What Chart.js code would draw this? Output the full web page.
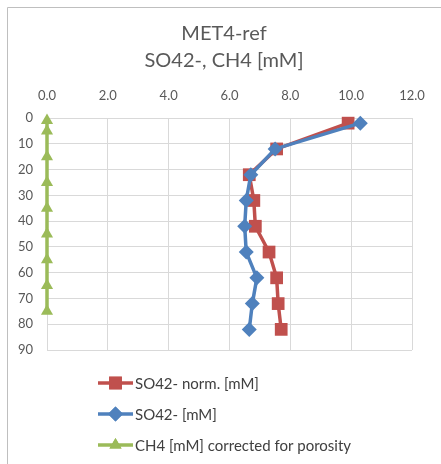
<!DOCTYPE html>
<html>
<head>
<meta charset="utf-8">
<script src="https://cdn.jsdelivr.net/npm/chart.js@4.4.1/dist/chart.umd.min.js"></script>
<style>
  html, body { margin: 0; padding: 0; background: #ffffff; }
  #wrap { position: relative; width: 441px; height: 464px; }
  canvas { display: block; }
</style>
</head>
<body>
<div id="wrap"><canvas id="c" width="441" height="464"></canvas></div>
<script>
// ---- Data ----
const titleLines = ['MET4-ref', 'SO42-, CH4 [mM]'];
const seriesNames = ['SO42- norm. [mM]', 'SO42- [mM]', 'CH4 [mM] corrected for porosity'];

const so4Depth = [2, 12, 22, 32, 42, 52, 62, 72, 82];
const so4Norm = [9.9, 7.55, 6.65, 6.8, 6.85, 7.3, 7.55, 7.6, 7.7];
const so4Raw = [10.3, 7.5, 6.7, 6.55, 6.5, 6.55, 6.9, 6.75, 6.65];

const ch4Depth = [1, 5, 15, 25, 35, 45, 55, 65, 75];
const ch4Conc = [0, 0, 0, 0, 0, 0, 0, 0, 0];

const xTicks = [0, 2, 4, 6, 8, 10, 12];
const yTicks = [0, 10, 20, 30, 40, 50, 60, 70, 80, 90];

const colors = ['#C0504D', '#4F81BD', '#9BBB59'];
const pointStyles = ['rect', 'rectRot', 'triangle'];
const pointRadii = [9, 7.5, 7];
const drawOrder = [3, 2, 1];

const FONT = 'Lato, "Open Sans", "DejaVu Sans", sans-serif';
const TXT = '#595959';

function pts(xs, ys) { return xs.map((x, i) => ({ x: x, y: ys[i] })); }

const datasets = [
  { label: seriesNames[0], data: pts(so4Norm, so4Depth) },
  { label: seriesNames[1], data: pts(so4Raw, so4Depth) },
  { label: seriesNames[2], data: pts(ch4Conc, ch4Depth) }
].map((d, i) => Object.assign(d, {
  order: drawOrder[i],
  borderColor: colors[i],
  backgroundColor: colors[i],
  pointBackgroundColor: colors[i],
  pointBorderColor: colors[i],
  pointBorderWidth: 0,
  pointStyle: pointStyles[i],
  pointRadius: pointRadii[i],
  pointHoverRadius: pointRadii[i],
  borderWidth: 3.5,
  showLine: true,
  tension: 0,
  clip: false
}));

// Frame + title drawn on the canvas
const framePlugin = {
  id: 'frame',
  beforeDraw(chart) {
    const ctx = chart.ctx;
    ctx.save();
    ctx.strokeStyle = '#bfbfbf';
    ctx.lineWidth = 1;
    ctx.beginPath();
    ctx.moveTo(7.5, 470);
    ctx.lineTo(7.5, 7.5);
    ctx.lineTo(450, 7.5);
    ctx.stroke();
    ctx.fillStyle = TXT;
    ctx.font = '20px ' + FONT;
    ctx.textAlign = 'center';
    ctx.textBaseline = 'middle';
    ctx.fillText(titleLines[0], 224, 34);
    ctx.fillText(titleLines[1], 224, 61);
    ctx.restore();
  }
};

const legendPlugin = {
  id: 'vlegend',
  afterDraw(chart) {
    const ctx = chart.ctx;
    const rowsY = [383, 414, 445];
    ctx.save();
    chart.data.datasets.forEach((ds, i) => {
      const y = rowsY[i];
      ctx.strokeStyle = ds.borderColor;
      ctx.lineWidth = 3.5;
      ctx.beginPath();
      ctx.moveTo(98, y);
      ctx.lineTo(133, y);
      ctx.stroke();
      ctx.fillStyle = ds.backgroundColor;
      Chart.helpers.drawPoint(ctx, { pointStyle: ds.pointStyle, radius: ds.pointRadius, borderWidth: 0 }, 115.5, y);
      ctx.fill();
      ctx.fillStyle = '#404040';
      ctx.font = '15px ' + FONT;
      ctx.textBaseline = 'middle';
      ctx.textAlign = 'left';
      ctx.fillText(ds.label, 135, y + 1);
    });
    ctx.restore();
  }
};

new Chart(document.getElementById('c'), {
  type: 'scatter',
  data: { datasets: datasets },
  plugins: [framePlugin, legendPlugin],
  options: {
    responsive: false,
    animation: false,
    events: [],
    layout: { padding: { left: 10, right: 29, top: 74, bottom: 114 } },
    plugins: {
      legend: { display: false },
      tooltip: { enabled: false },
      title: { display: false }
    },
    scales: {
      x: {
        type: 'linear',
        position: 'top',
        min: 0, max: 12,
        afterBuildTicks(scale) { scale.ticks = xTicks.map(v => ({ value: v })); },
        afterFit(scale) { scale.height = 118 - 74; },
        ticks: {
          color: TXT,
          padding: 14,
          font: { family: FONT, size: 13 },
          callback: v => Number(v).toFixed(1)
        },
        grid: { color: '#d9d9d9', lineWidth: 1, drawTicks: false },
        border: { display: true, color: '#d9d9d9' }
      },
      y: {
        type: 'linear',
        reverse: true,
        min: 0, max: 90,
        afterBuildTicks(scale) { scale.ticks = yTicks.map(v => ({ value: v })); },
        afterFit(scale) { scale.width = 37; },
        ticks: {
          color: TXT,
          padding: 14,
          font: { family: FONT, size: 13 }
        },
        grid: { color: '#d9d9d9', lineWidth: 1, drawTicks: false },
        border: { display: true, color: '#d9d9d9' }
      }
    }
  }
});
</script>
</body>
</html>
